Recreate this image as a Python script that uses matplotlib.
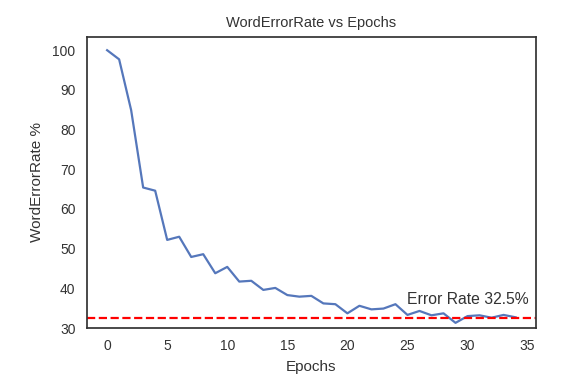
import matplotlib
matplotlib.use("Agg")
import matplotlib.pyplot as plt

epochs = list(range(35))
wer = [100.0, 97.7, 84.9, 65.4, 64.6, 52.2, 53.0, 47.9, 48.6, 43.8,
       45.4, 41.7, 41.9, 39.6, 40.1, 38.3, 37.9, 38.1, 36.2, 36.0,
       33.7, 35.6, 34.7, 34.9, 36.0, 33.3, 34.3, 33.2, 33.7, 31.3,
       33.0, 33.2, 32.6, 33.3, 32.7]
target_rate = 32.5
annotation = "Error Rate 32.5%"

plt.rcParams['font.family'] = ['Liberation Sans', 'DejaVu Sans']

fig = plt.figure(figsize=(5.83, 3.84), dpi=100)
ax = fig.add_axes([0.1487, 0.1458, 0.9194 - 0.1487, 0.9044 - 0.1458])

ax.plot(epochs, wer, color='#5577bb', linewidth=1.6)
ax.axhline(target_rate, color='red', linestyle='--', linewidth=1.6)
ax.text(25, 36.1, annotation, fontsize=11.3, color='#333333')

ax.set_xlim(-1.7, 35.7)
ax.set_ylim(30, 103.4)
ax.set_xticks([0, 5, 10, 15, 20, 25, 30, 35])
ax.set_yticks([30, 40, 50, 60, 70, 80, 90, 100])
ax.tick_params(length=0, labelsize=10, colors='#333333', pad=8)

ax.set_title("WordErrorRate vs Epochs", fontsize=10.5, color='#333333', pad=7)
ax.set_xlabel("Epochs", fontsize=11, color='#333333', labelpad=5)
ax.set_ylabel("WordErrorRate %", fontsize=11, color='#333333', labelpad=6)

for s in ax.spines.values():
    s.set_color('#333333')
    s.set_linewidth(1.25)

fig.savefig("out.png", dpi=100)
